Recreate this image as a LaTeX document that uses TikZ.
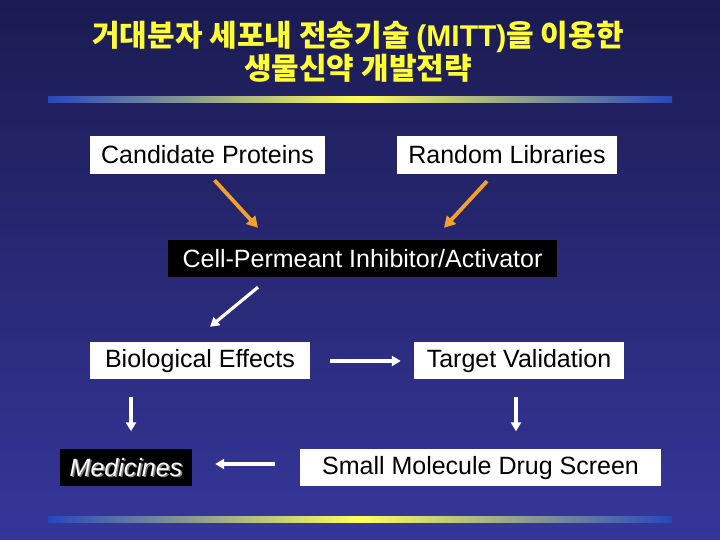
\documentclass[tikz,border=0pt]{standalone}
\usepackage{fontspec}
\setmainfont{Liberation Sans}
\newfontfamily\krfont{Noto Sans CJK KR}
\usetikzlibrary{arrows.meta}

\definecolor{bgtop}{RGB}{27,27,82}
\definecolor{bgbottom}{RGB}{54,54,154}
\definecolor{titleyellow}{RGB}{255,255,51}
\definecolor{barblue}{RGB}{40,70,190}
\definecolor{baryellow}{RGB}{255,255,90}
\definecolor{arroworange}{RGB}{245,160,40}

\newcommand{\shadowtxt}[1]{\makebox[0pt][l]{\kern1.5pt\raisebox{-1.5pt}{\textcolor{gray}{#1}}}#1}

\begin{document}
\begin{tikzpicture}[x=1pt, y=1pt,
	box/.style={fill=white, text=black, inner sep=0pt, minimum height=37pt, font=\fontsize{25}{30}\selectfont},
	darkbox/.style={box, fill=black, text=white},
	flow/.style={line width=3.2pt, white, -{Triangle[length=9pt,width=10pt]}},
	feed/.style={line width=3.8pt, arroworange, -{Triangle[length=11pt,width=12pt]}}]
		%background
		\shade[top color=bgtop, bottom color=bgbottom] (0,0) rectangle (720,540);
		\useasboundingbox (0,0) rectangle (720,540);
		
		%title
		\node[text=titleyellow, align=center, font=\krfont\bfseries\fontsize{30}{33}\selectfont] (title) at (358,488.5)
			{거대분자 세포내 전송기술 {\rmfamily\bfseries(MITT)}을 이용한\\생물신약 개발전략};
		\shade[left color=barblue, right color=barblue, middle color=baryellow] (48,437) rectangle (672,443);
		\shade[left color=barblue, right color=barblue, middle color=baryellow] (48,17) rectangle (672,23);
		
		%boxes
		\node[box, minimum width=235pt, minimum height=38pt] (cand) at (207.5,385) {Candidate Proteins};
		\node[box, minimum width=220pt, minimum height=38pt] (rand) at (507,385) {Random Libraries};
		\node[darkbox, minimum width=389pt] (cell) at (362.5,281.5) {Cell-Permeant Inhibitor/Activator};
		\node[box, minimum width=220pt] (bio) at (200,179) {Biological Effects};
		\node[box, minimum width=210pt] (target) at (519,179) {Target Validation};
		\node[darkbox, minimum width=132pt] (med) at (126,72) {\itshape\shadowtxt{Medicines}};
		\node[box, minimum width=361pt] (screen) at (480.5,72) {Small Molecule Drug Screen};
		
		%arrows
		\draw[feed] ([xshift=7pt, yshift=-6pt]cand.south) -- ([xshift=-104.5pt, yshift=12pt]cell.north);
		\draw[feed] ([xshift=-20pt, yshift=-7pt]rand.south) -- ([xshift=81.5pt, yshift=12pt]cell.north);
		\draw[flow] ([xshift=-104.5pt, yshift=-10pt]cell.south) -- ([xshift=10pt, yshift=15.5pt]bio.north);
		\draw[flow, shorten <=20pt, shorten >=13pt] (bio.east) -- (target.west);
		\draw[flow] ([xshift=-69pt, yshift=-17pt]bio.south) -- ([xshift=5pt, yshift=18pt]med.north);
		\draw[flow] ([xshift=-3pt, yshift=-17pt]target.south) -- ([xshift=35.5pt, yshift=18pt]screen.north);
		\draw[flow] ([xshift=-25pt, yshift=4pt]screen.west) -- ([xshift=23pt, yshift=4pt]med.east);
\end{tikzpicture}
\end{document}
